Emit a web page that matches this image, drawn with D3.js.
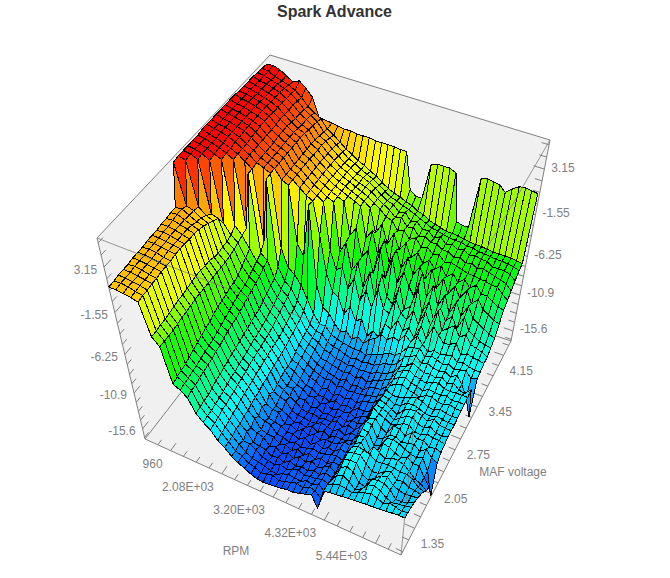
<!DOCTYPE html>
<html><head><meta charset="utf-8">
<style>html,body{margin:0;padding:0;background:#fff}svg{display:block}text{font-family:"Liberation Sans",Arial,sans-serif}</style>
<script src="https://cdn.jsdelivr.net/npm/d3@7"></script></head><body><div id="c"></div>
<script>
const rpmValues=[400,530,660,791,921,1051,1181,1312,1442,1572,1702,1832,1963,2093,2223,2353,2484,2614,2744,2874,3005,3135,3265,3395,3526,3656,3786,3916,4047,4177,4307,4437,4568,4698,4828,4958,5088,5219,5349,5479,5609,5740,5870,6000];
const mafValues=[0.95,1.05,1.14,1.24,1.33,1.43,1.53,1.62,1.72,1.82,1.91,2.01,2.11,2.20,2.30,2.39,2.49,2.59,2.68,2.78,2.88,2.97,3.07,3.16,3.26,3.36,3.45,3.55,3.65,3.74,3.84,3.93,4.03,4.13,4.22,4.32];
const rpmTicks=[960,2080,3200,4320,5440];
const rpmTickLabels=["960","2.08E+03","3.20E+03","4.32E+03","5.44E+03"];
const mafTicks=[1.35,2.05,2.75,3.45,4.15];
const mafTickLabels=["1.35","2.05","2.75","3.45","4.15"];
const sparkTicks=[-15.6,-10.9,-6.25,-1.55,3.15];
const sparkTickLabels=["-15.6","-10.9","-6.25","-1.55","3.15"];
const sparkAdvance=[
[1.2,1.2,1.1,1,.8,-2.6,-3.4,-7.4,-7.8,-8.4,-10,-10.8,-11.4,-12.4,-13,-13.8,-14.3, -14.7,-15.1,-15.4,-15.5,-15.4,-15.3,-15.2,-15,-15,-14.8,-14.5,-14.2,-15.7, -13,-12.8,-12.7,-12.6,-12.5,-12.4,-12.3,-12.2,-12.2,-12.1,-12,-11.9,-11.8,-11.8],
[1.2,1.3,1.2,1,.9,-2.6,-3.4,-7.2,-7.7,-8.2,-9.9,-10.7,-11.3,-12.2,-13,-13.9,-14.2, -14.8,-15,-15.4,-15.2,-15,-15.4,-15.1,-14.9,-14.6,-14.9,-14.4,-14.5,-15.3, -13,-12.5,-12.3,-12.4,-12.6,-12.2,-11.9,-11.6,-11.9,-12.2,-11.8,-12,-12.2,-12],
[1.3,1.3,1.2,1.1,.9,-2.5,-3.4,-7.1,-7.7,-8.2,-9.8,-10.7,-11.2,-12.1,-13,-13.7,-14.4, -14.9,-15,-15.2,-15.5,-15.6,-15.2,-14.9,-15,-15.1,-14.7,-14.8,-14.4,-15.1, -13.2,-12.1,-11.8,-12.3,-13,-12.5,-11.6,-11.4,-11.7,-12.3,-12.6,-12.4,-12.3,-12.1],
[1.3,1.3,1.2,1.1,1,-2.5,-3.4,-7,-7.5,-8,-9.8,-10.6,-11,-12,-12.8,-14,-14.1, -14.5,-15.2,-15.3,-15.5,-15.1,-15.4,-15,-14.8,-15.1,-15,-14.9,-14.6,-14.9, -13.4,-11.9,-11.5,-11.8,-12.9,-13.1,-11.8,-11.5,-11.6,-12.1,-13,-13,-12.7,-12.3],
[1.3,1.4,1.3,1.1,1,-2.4,-3.3,-6.8,-7.5,-7.9,-9.6,-10.5,-11,-11.8,-12.8,-13.5,-14.6, -14.8,-14.9,-15.5,-15.2,-15.6,-15,-15.4,-15.1,-15.3,-14.9,-15.1,-14.5,-14.8, -13.8,-11.6,-11.4,-11.4,-12.6,-13,-12.4,-11.7,-11.5,-12.3,-12.6,-12.8,-12.6,-12.6],
[1.4,1.4,1.3,1.2,1.1,-2.3,-3.2,-6.6,-7.3,-7.8,-9.4,-10.4,-10.8,-11.7,-12.6,-13.8,-14.1, -14.4,-15.2,-15,-15.6,-15.1,-15.5,-14.9,-15.3,-14.8,-15.3,-14.9,-14.4,-15, -14,-11.5,-11.3,-11.2,-12,-12.7,-12.6,-12,-11.7,-12.4,-12.3,-12.7,-12.8,-13],
[1.4,1.4,1.3,1.2,1.1,-2.2,-3.2,-6.4,-7.2,-7.7,-9.3,-10.2,-10.8,-11.5,-12.6,-13.3,-14.5, -14.7,-14.8,-15.4,-15.1,-15.6,-15,-15.5,-14.9,-15.4,-14.9,-15.3,-14.7,-14.8, -14.2,-11.7,-11.2,-11.4,-11.6,-12.2,-12.1,-12,-12.1,-12.2,-12.2,-12.5,-13.2,-13.5],
[1.4,1.5,1.4,1.2,1.1,-2.2,-3.1,-6.2,-7.1,-7.5,-9.1,-10,-10.6,-11.4,-12.4,-13.7,-14, -14.2,-15.1,-15.2,-15.5,-15.2,-15.5,-15.3,-15,-15.2,-15.1,-14.8,-14.6,-14.9, -14,-12,-11.4,-12.6,-11.3,-11.8,-12.3,-11.8,-11.8,-12,-12.6,-13.3,-13.6,-14.2],
[1.5,1.5,1.4,1.3,1.2,-2.1,-3,-6,-7,-7.4,-9,-10,-10.5,-11.3,-12.3,-13.2,-14.4, -14.6,-14.8,-15.3,-15.2,-15.6,-15,-15.6,-15,-15.5,-15,-15.2,-14.5,-14.7, -13.8,-11.7,-11.6,-13,-12.8,-11.4,-11.6,-12,-12.3,-11.9,-12.4,-12.4,-13.6,-14.6],
[1.5,1.5,1.4,1.3,1.2,-2,-3,-5.9,-6.8,-7.2,-8.8,-9.8,-10.4,-11.2,-12.2,-13.6,-14, -14.1,-15.3,-15.1,-15.6,-15,-15.6,-15,-15.5,-15.1,-15.2,-15,-14.4,-14.5, -13.6,-11.6,-11.8,-13.2,-12.9,-11.6,-11.4,-11.6,-12,-12.3,-12.5,-12.2,-13.6,-16.8],
[1.5,1.6,1.5,1.3,1.2,-1.9,-3,-5.6,-6.6,-7,-8.7,-9.7,-10.2,-11,-12,-13,-14.2, -14.5,-14.9,-15.5,-15.2,-15.5,-15,-15.5,-15,-15.5,-15,-15.1,-15,-14.5, -13.6,-11.4,-11.5,-13,-12.6,-11.9,-11.8,-12.2,-12,-11.8,-12.4,-11.8,-12.6,-13],
[1.6,1.6,1.5,1.3,1.1,-1.9,-3,-5.4,-6.4,-6.9,-8.6,-9.6,-10.1,-11,-12,-13.4,-13.8, -14,-15,-15.3,-15.3,-15.5,-15.4,-15,-15.2,-15.4,-14.9,-15.4,-14.7,-14.8, -13.5,-11.8,-11.5,-12.4,-12.8,-11.5,-11.6,-12.2,-11.4,-12,-11.8,-12.4,-12.2,-12.4],
[1.6,1.7,1.5,1.3,1.1,-2,-3,-5.3,-6.2,-6.8,-8.4,-9.4,-10,-10.8,-11.8,-13.2,-13.6, -14.2,-14.6,-15.2,-15.4,-15.2,-15.5,-15.3,-15.4,-14.9,-15.4,-14.8,-15.2,-14.3, -13.3,-11.2,-11.7,-12,-12.4,-12.2,-11.7,-11.6,-12.2,-12.2,-11.8,-12,-12,-12.2],
[1.7,1.8,1.5,1.2,1,-2,-3,-5.2,-6,-6.6,-8.3,-9.3,-9.9,-10.8,-11.7,-13,-13.8, -13.8,-14.8,-14.7,-15.4,-15.1,-15.5,-15.3,-15.5,-15,-15.4,-14.9,-15,-14.6, -13,-11.5,-11.7,-12,-12.6,-12,-11.5,-11.3,-11.9,-12,-11.6,-12.1,-12.2,-12],
[1.7,1.8,1.4,1,.8,-2.2,-3,-5,-5.8,-6.4,-8.1,-9.2,-9.8,-10.6,-11.6,-12.8,-13.6, -14.1,-14.3,-15,-14.8,-15.4,-15,-15.5,-15.1,-15.2,-15,-15.4,-14.8,-14.6, -13,-11.7,-11.9,-12.3,-12.7,-11.8,-11.4,-11.3,-11.6,-12,-11.4,-11.9,-12,-12],
[5.6,1.6,1.4,.9,.6,-2.3,-3,-5,-5.7,-6.2,-8,-9,-9.7,-10.6,-11.5,-12.9,-13.3, -13.9,-14.5,-14.6,-15.2,-15.1,-15.5,-15,-15.4,-15,-15.3,-14.8,-14.9,-14.5, -13.1,-11.8,-12,-12.4,-12.2,-11.6,-11.5,-11.7,-12,-12.1,-11.8,-11.9,-12,-12],
[5.7,5.5,1.2,.6,.3,-2.2,-2.9,-4.8,-5.6,-6,-7.9,-8.9,-9.5,-10.5,-11.4,-12.8,-13, -13.6,-14.2,-14.4,-15,-14.8,-15.4,-14.9,-15.2,-14.8,-15.2,-14.6,-14.4,-14.2, -13.3,-11.9,-12.3,-12.2,-12,-11.7,-11.4,-11.6,-12,-12.1,-11.7,-11.9,-12,-11.9],
[5.7,5.6,5.3,.2,0,-2.2,-2.8,-4.4,-5.3,-5.8,-7.6,-8.6,-9.2,-10.3,-11.2,-12.5,-12.9, -13.5,-14,-14.3,-14.6,-14.4,-15,-14.7,-15,-14.8,-14.8,-14.6,-14.4,-14.1, -13.5,-12.1,-11.6,-11.4,-11.7,-11.9,-12.1,-11.6,-11.5,-11.8,-11.9,-11.6,-11.8,-11.8],
[5.7,5.6,5.4,5,-1,-2,-2.6,-4,-5,-5.6,-7.3,-8.4,-9,-10.1,-11,-12.2,-12.7, -13.2,-13.8,-14.1,-14.4,-14.6,-14.8,-14.4,-14.9,-14.6,-14.9,-14.2,-14,-13.9, -13.2,-12,-11.4,-11.2,-11.6,-11.7,-12,-11.5,-11.6,-11.7,-11.5,-11.8,-11.7,-11.7],
[5.7,5.6,5.4,5.1,4.8,-1.6,-2.4,-3.6,-4.7,-5.2,-7,-8.1,-8.7,-9.8,-10.8,-12,-12.5, -12.9,-13.8,-13.9,-14.1,-14.3,-14.5,-14.2,-14.7,-14.2,-14.6,-14.1,-13.8,-13.4, -13,-11.8,-11.3,-11,-11.4,-11.6,-11.8,-11.4,-11.2,-11.6,-11.7,-11.6,-11.6,-11.6],
[5.7,5.6,5.4,5.2,4.9,4.5,-2.2,3.6,-4.4,-5,-6.8,-7.8,-8.4,-9.6,-10.6,-11.8,-12.4, -12.8,-13.4,-13.6,-14,-14,-14.3,-14.1,-14.3,-14.2,-14.2,-13.8,-13.6,-13.3, -12.8,-11.8,-11.5,-10.8,-11.2,-11.5,-11.4,-11.6,-11.2,-11.8,-11.4,-12,-12.2,-11.4],
[5.8,5.6,5.4,5.2,4.9,4.6,4.1,3.6,-3.6,3,-6,-7.4,-8,-9.2,-10.2,-11.6,-12.2, -12.3,-13,-13.4,-13.5,-13.8,-14,-13.8,-14,-13.8,-13.8,-13.4,-13,-12.9, -12.4,-11.3,-10.9,-10.6,-11.3,-11,-11.3,-11.4,-11.2,-11.6,-11.1,-12,-13.4,-15.8],
[5.8,5.6,5.5,5.3,5,4.6,4.2,3.7,3.4,3.1,-4.5,-6.5,-7,-8,-9.5,-11,-12, -12,-12.8,-13.1,-13.3,-13.4,-13.6,-13.5,-13.8,-13.4,-13.2,-12.8,-12.4,-12.4, -11.8,-10.8,-10.6,-10.4,-11.2,-10.8,-11,-11.3,-11,-11.4,-11.2,-11,-11.8,-11.4],
[5.8,5.6,5.5,5.3,5,4.6,4.2,3.7,3.4,3.1,2.2,1.9,-4,-5.2,.6,-8,-10.5, -11,-12,-12.8,-12.4,-13.2,-12.6,-13.2,-12.4,-12,-11.2,-11.6,-11,-11.2, -10.2,-10.8,-9.8,-10.6,-11.2,-10.8,-11,-10.8,-10.6,-11.2,-11,-11.2,-11.4,-11.3],
[5.8,5.6,5.5,5.3,5.1,4.7,4.2,3.7,3.4,3.1,2.2,1.9,1.3,.8,.4,-3,-7, -9,-9.4,-11.2,-10,-11.6,-11,-13,-12,-12.6,-10.6,-11,-9.6,-10.6, -10,-11,-9.2,-10.6,-8.8,-9.6,-10.4,-10.2,-9.8,-11,-10.6,-10.8,-10.9,-11],
[5.8,5.6,5.5,5.3,5.1,4.7,4.2,3.7,3.4,3.1,2.2,1.9,1.3,.8,.4,0,-5, -7,-6.5,-8.8,-7.2,-9.8,-8.2,-10,-7.5,-9.6,-10,-8,-9.4,-10, -8.6,-10,-8.2,-9.6,-7.6,-9.8,-9.2,-8.6,-9.8,-9.2,-10.2,-10.4,-10.6,-11],
[5.8,5.6,5.5,5.3,5.1,4.8,4.2,3.7,3.4,3.1,2.2,1.9,1.3,.8,.4,0,-.3, -5.5,-4.2,-7.2,-6,-8.8,-6.6,-9.6,-6.4,-8.8,-9.5,-7,-9.6,-9, -6.5,-9.2,-7.6,-9.6,-8,-9.2,-8.4,-9.6,-8,-9.4,-9.8,-10.2,-10.4,-10.5],
[5.8,5.6,5.5,5.3,5.1,4.8,4.2,3.8,3.4,3.1,2.2,1.9,1.3,.8,.4,0,-.3, -.6,-4,-3,-6,-5,-7.4,-4.5,-7.5,-5,-7.6,-6,-7.5,-8.5, -5.4,-8,-6.4,-8.6,-7,-9,-7.4,-8.8,-7.4,-8.6,-9,-9.4,-9.8,-10],
[5.8,5.6,5.5,5.3,5.1,4.8,4.2,3.8,3.4,3.1,2.2,1.9,1.3,.8,.4,0,-.3, -.6,-.9,-1.2,-4.5,-3.4,-5.8,-4,-6.4,-4.6,-6.5,-5,-6.8,-5.6, -6.8,-5.4,-7.4,-6,-7.6,-6.4,-7.6,-6.4,-7.8,-7,-8,-8.4,-8.8,-9],
[5.7,5.6,5.5,5.3,5.1,4.7,4.3,3.8,3.4,3.1,2.2,1.8,1.3,.8,.3,0,-.3, -.6,-.9,-1.2,-1.7,-4.2,-3,-5,-3.6,-5.2,-4.2,-5.6,-4.8,-5.8, -5.2,-6,-5.4,-6.4,-5.8,-6.6,-6,-6.8,-6.2,-7,-7,-7.4,-7.8,-8],
[5.7,5.6,5.4,5.2,5,4.7,4.2,3.7,3.3,3,2.2,1.8,1.2,.7,.3,-.1,-.4, -.7,-1,-1.3,-1.8,-2.2,-2.8,-3,-3.9,-3.6,-4.4,-4,-4.8,-4.6, -5.2,-5,-5.6,-5.4,-5.6,-5.8,-6,-6,-6.2,-6.2,-6.4,-6.4,-7,-7.5],
[5.7,5.6,5.4,5.2,5,4.7,4.2,3.6,3.2,2.9,2.1,1.8,1.2,.7,.2,-.1,-.5, -.8,-1,-1.3,-1.8,-2.2,-2.6,-3.2,-3,-3.8,-3.6,-4.4,-4.2,-4.6, -4.6,-5,-5,-5.4,-5.2,-5.6,-5.4,-5.8,-5.6,-5.8,-6,-6.2,-6.4,-7],
[5.7,5.5,5.4,5.2,5,4.6,4.2,3.6,3.2,2.8,2,1.7,1.1,.6,.1,-.2,-.6, -.8,-1.1,-1.5,-2,-2.4,-2.6,-3.2,-3,-3.8,-3.6,-4.2,-4.2,-4.8, -4.4,-5,-4.8,-5.2,-5,-5.4,-5.2,-5.4,-5.4,-5.8,-5.8,-5.8,-6,-6.5],
[5.6,5.5,5.3,5.1,4.9,4.6,4.1,3.5,3.1,2.7,1.9,1.5,1,.5,0,-.3,-.7, -1,-1.3,-1.7,-2.2,-2.6,-2.8,-3.1,-3.3,-3.6,-3.9,-4.2,-4.5,-4.6, -4.8,-4.9,-5,-5,-5.2,-5.2,-5.4,-5.4,-5.5,-5.6,-5.6,-5.7,-5.8,-6],
[5.6,5.5,5.2,5,4.8,4.5,4,3.3,2.9,2.5,1.7,1.3,.8,.3,-.1,-.5,-.8, -1.2,-1.5,-2,-2.4,-2.7,-2.9,-3.2,-3.4,-3.8,-4,-4.4,-4.6,-4.8, -5,-5,-5.1,-5.2,-5.3,-5.4,-5.4,-5.5,-5.6,-5.6,-5.6,-5.6,-5.7,-5.8],
[5.5,5.6,5.4,5,4.6,4.9,4.4,3.7,2,1.9,1.8,1.7,1.6,1.6,1.5,1.5,1.5, 1.4,1.4,1.4,1.4,1.3,1.3,-2.5,-3,-3,.8,1,1,1, .7,-4.3,-4.5,-4.5,1,1.1,1,.9,.3,.9,1.3,1.4,1.3,1.2]
];

const W=670,H=578;
const floorC={A:[145,439],B:[281,263],C:[511,341],D:[401,555]};
const ceilC={A:[97,238],B:[270,55],C:[550,140],D:[420,363]};
const xS=d3.scaleLinear().domain([400,6000]).range([0,1]);
const yS=d3.scaleLinear().domain([0.95,4.4]).range([0,1]);
const zS=d3.scaleLinear().domain([-17,6]).range([0,1]);
const persp=(w,k)=>w/(w+k*(1-w));
const hue=d3.scaleLinear().domain([-17,5.5]).range([240,0]).clamp(true);
const bil=(q,u,v)=>[0,1].map(i=>q.A[i]*(1-u)*(1-v)+q.D[i]*u*(1-v)+q.B[i]*(1-u)*v+q.C[i]*u*v);
function project(rpm,maf,z){
  const u=xS(rpm),v=persp(yS(maf),0.92),t=persp(zS(z),1.22);
  const f=bil(floorC,u,v),c=bil(ceilC,u,v);
  return [f[0]+(c[0]-f[0])*t,f[1]+(c[1]-f[1])*t];
}
const xD=xS.domain(),yD=yS.domain(),zD=zS.domain();
const svg=d3.select("#c").append("svg").attr("width",W).attr("height",H);
const line=d3.line();
const grey="#808080";
svg.append("g").attr("fill","#f0f0f0").selectAll("path").data([
 [[xD[0],yD[0],zD[0]],[xD[0],yD[1],zD[0]],[xD[0],yD[1],zD[1]],[xD[0],yD[0],zD[1]]],
 [[xD[0],yD[1],zD[0]],[xD[1],yD[1],zD[0]],[xD[1],yD[1],zD[1]],[xD[0],yD[1],zD[1]]],
 [[xD[0],yD[0],zD[0]],[xD[1],yD[0],zD[0]],[xD[1],yD[1],zD[0]],[xD[0],yD[1],zD[0]]]
]).join("path").attr("d",d=>line(d.map(p=>project(...p)))+"Z");
const edge=(g,a,b,w)=>g.append("line").attr("x1",project(...a)[0]).attr("y1",project(...a)[1]).attr("x2",project(...b)[0]).attr("y2",project(...b)[1]).attr("stroke",grey).attr("stroke-width",w||1);
const back=svg.append("g");
[[[xD[0],yD[0],zD[1]],[xD[0],yD[1],zD[1]]],
 [[xD[0],yD[1],zD[1]],[xD[1],yD[1],zD[1]]],
 [[xD[0],yD[0],zD[1]],[xD[0],yD[0],zD[0]]],
 [[xD[1],yD[1],zD[1]],[xD[1],yD[1],zD[0]]],
 [[xD[0],yD[0],zD[0]],[xD[1],yD[0],zD[0]]],
 [[xD[1],yD[0],zD[0]],[xD[1],yD[1],zD[0]]],
 [[xD[0],yD[0],zD[0]],[xD[0],yD[1],zD[0]]],
 [[xD[0],yD[1],zD[0]],[xD[1],yD[1],zD[0]]]
].forEach(e=>edge(back,e[0],e[1]));
const minorRange=(ticks,lo,hi)=>{const s=(ticks[1]-ticks[0])/4,o=[];for(let k=-8;k<=30;k++){const x=ticks[0]+k*s;if(x>lo&&x<hi)o.push({x,major:k%4===0});}return o;};
minorRange(rpmTicks,xD[0],xD[1]).forEach(d=>edge(back,[d.x,yD[0],zD[0]],[d.x,yD[0]+(d.major?.13:.09),zD[0]]));
minorRange(mafTicks,yD[0],yD[1]).forEach(d=>edge(back,[xD[1],d.x,zD[0]],[xD[1]-(d.major?220:150),d.x,zD[0]]));
minorRange(sparkTicks,zD[0],zD[1]).forEach(d=>{
  edge(back,[xD[0],yD[0],d.x],[xD[0],yD[0]+(d.major?.13:.09),d.x]);
  edge(back,[xD[1],yD[1],d.x],[xD[1]-(d.major?220:150),yD[1],d.x]);
});
const cells=[];
for(let j=mafValues.length-2;j>=0;j--)for(let i=0;i<rpmValues.length-1;i++){
  const zz=[sparkAdvance[j][i],sparkAdvance[j][i+1],sparkAdvance[j+1][i+1],sparkAdvance[j+1][i]];
  cells.push({pts:[project(rpmValues[i],mafValues[j],zz[0]),project(rpmValues[i+1],mafValues[j],zz[1]),project(rpmValues[i+1],mafValues[j+1],zz[2]),project(rpmValues[i],mafValues[j+1],zz[3])],z:d3.mean(zz)});
}
svg.append("g").attr("stroke","#000").attr("stroke-width",1).attr("shape-rendering","crispEdges").selectAll("path").data(cells).join("path")
 .attr("d",d=>line(d.pts)+"Z").attr("fill",d=>d3.hsl(hue(d.z),1,.5).formatHex());
const front=svg.append("g").attr("opacity",.8);
[[[xD[0],yD[0],zD[1]],[xD[1],yD[0],zD[1]]],
 [[xD[1],yD[1],zD[1]],[xD[1],yD[0],zD[1]]],
 [[xD[1],yD[0],zD[1]],[xD[1],yD[0],zD[0]]]].forEach(e=>edge(front,e[0],e[1]));
const lab=svg.append("g").attr("fill",grey).attr("font-size",12);
const put=(p,dx,dy,s,a)=>lab.append("text").attr("x",p[0]+dx).attr("y",p[1]+dy).attr("text-anchor",a).text(s);
rpmTicks.forEach((d,i)=>put(project(d,yD[0],zD[0]),-8,17,rpmTickLabels[i],"end"));
mafTicks.forEach((d,i)=>put(project(xD[1],d,zD[0]),6,20,mafTickLabels[i],"start"));
sparkTicks.forEach((d,i)=>{put(project(xD[0],yD[0],d),-7,6,sparkTickLabels[i],"end");put(project(xD[1],yD[1],d),7,2,sparkTickLabels[i],"start");});
lab.append("text").attr("x",236).attr("y",555).attr("text-anchor","middle").text("RPM");
lab.append("text").attr("x",513).attr("y",476).attr("text-anchor","middle").text("MAF voltage");
svg.append("text").attr("x",334.5).attr("y",17).attr("text-anchor","middle").attr("font-size",16).attr("font-weight","bold").attr("fill","#333").text("Spark Advance");
</script></body></html>
